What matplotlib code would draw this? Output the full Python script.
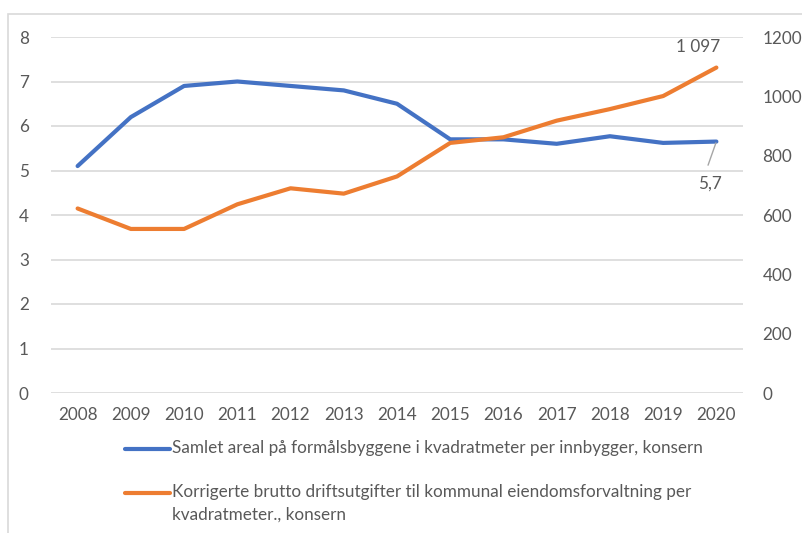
import matplotlib
matplotlib.use("Agg")
import matplotlib.pyplot as plt
from matplotlib.lines import Line2D
from matplotlib.patches import Rectangle

years = ["2008", "2009", "2010", "2011", "2012", "2013", "2014",
         "2015", "2016", "2017", "2018", "2019", "2020"]
areal = [5.1, 6.2, 6.9, 7.0, 6.9, 6.8, 6.5, 5.7, 5.7, 5.6, 5.77, 5.62, 5.65]
utgifter = [622, 553, 553, 636, 690, 672, 730, 843, 862, 918, 957, 1001, 1097]
left_ticks = [0, 1, 2, 3, 4, 5, 6, 7, 8]
right_ticks = [0, 200, 400, 600, 800, 1000, 1200]
label_areal = "Samlet areal på formålsbyggene i kvadratmeter per innbygger, konsern"
label_utg = ("Korrigerte brutto driftsutgifter til kommunal eiendomsforvaltning per\n"
             "kvadratmeter., konsern")

BLUE = "#4472C4"
ORANGE = "#ED7D31"
GRAY = "#595959"
GRID = "#D9D9D9"
FONT = ["Liberation Sans Narrow", "Lato", "DejaVu Sans"]
plt.rcParams["font.family"] = FONT
FS = 12.3

W, H = 803, 533
fig = plt.figure(figsize=(W / 100, H / 100), dpi=100)

# chart border
fig.add_artist(Rectangle((8 / W, -0.1), 1.2, 1.1 - 14 / H, transform=fig.transFigure,
                         fill=False, edgecolor="#D9D9D9", linewidth=1.2))

ax = fig.add_axes([51 / W, 1 - 393 / H, (743 - 51) / W, (393 - 37) / H])
ax2 = ax.twinx()
x = list(range(len(years)))

ax.set_xlim(-0.5, len(years) - 0.5)
ax.set_ylim(0, 8)
ax2.set_ylim(0, 1200)
ax.set_yticks(left_ticks)
ax2.set_yticks(right_ticks)
ax.set_xticks(x)
ax.set_xticklabels(years)
ax.grid(axis="y", color=GRID, linewidth=1.2)
ax.set_axisbelow(True)
for a in (ax, ax2):
    for s in a.spines.values():
        s.set_visible(False)
    a.tick_params(length=0, colors=GRAY, labelsize=FS)
ax.tick_params(axis="y", pad=16)
ax2.tick_params(axis="y", pad=14)
ax.tick_params(axis="x", pad=10)

ax.plot(x, areal, color=BLUE, linewidth=3, solid_capstyle="round", zorder=3)
ax2.plot(x, utgifter, color=ORANGE, linewidth=3, solid_capstyle="round", zorder=3)

# data labels
ax2.annotate("1 097", xy=(x[-1], utgifter[-1]), xytext=(-13, 9), textcoords="offset points",
             ha="center", va="bottom", color=GRAY, fontsize=FS)
ax.annotate("", xy=(x[-1], areal[-1]), xytext=(-6, -17), textcoords="offset points",
            arrowprops=dict(arrowstyle="-", color="#A6A6A6", linewidth=1,
                            shrinkA=0, shrinkB=1))
ax.annotate("5,7", xy=(x[-1], areal[-1]), xytext=(-5, -30), textcoords="offset points",
            ha="center", va="center", color=GRAY, fontsize=FS)

# legend drawn manually
def legend_item(y_px, color, text):
    fig.add_artist(Line2D([125 / W, 170 / W], [1 - y_px / H, 1 - y_px / H],
                          transform=fig.transFigure, color=color, linewidth=3,
                          solid_capstyle="round"))
    fig.text(172 / W, 1 - (y_px - 9) / H, text, ha="left", va="top", color=GRAY,
             fontsize=FS, linespacing=1.5)

legend_item(449, BLUE, label_areal)
legend_item(493, ORANGE, label_utg)

fig.savefig("out.png", dpi=100)
